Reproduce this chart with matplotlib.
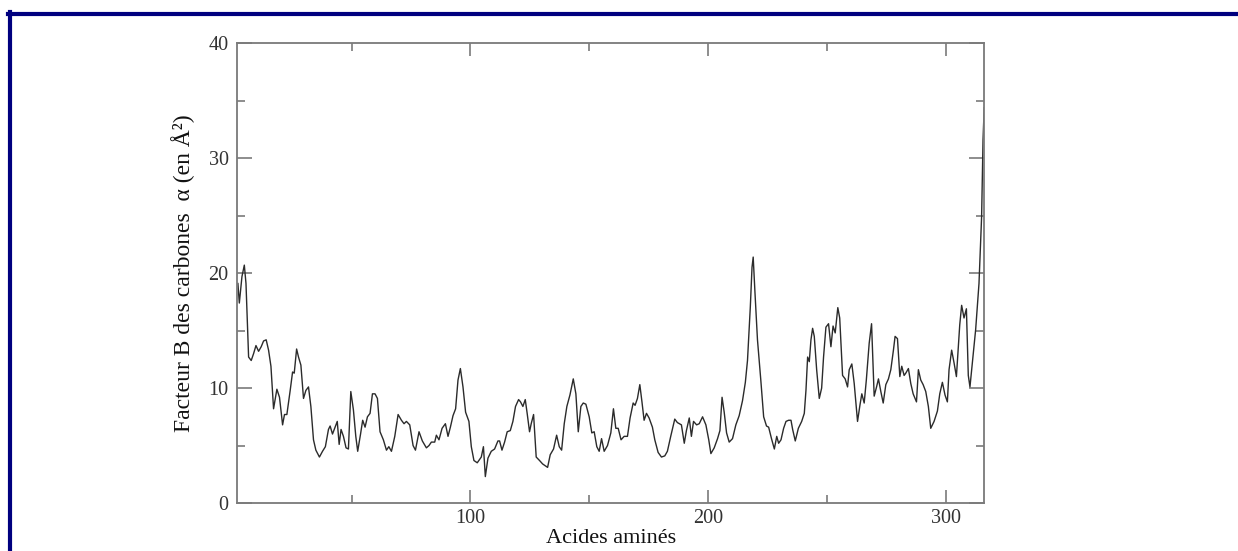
import matplotlib
matplotlib.use("Agg")
import matplotlib.pyplot as plt
from matplotlib.lines import Line2D
from matplotlib.ticker import MultipleLocator

# vertices: residue number, B factor of C-alpha (A^2)
residues = [
    2.2, 2.8, 3.9, 4.9, 5.6, 6.3, 6.7, 7.8, 8.8, 9.8, 10.9, 12.0, 13.0, 14.1,
    15.1, 16.1, 17.2, 18.6, 19.7, 21.0, 21.8, 22.8, 24.2, 25.2, 25.9, 26.9,
    27.7, 28.7, 29.8, 30.8, 31.9, 32.9, 34.0, 35.0, 36.5, 37.8, 39.0, 40.3,
    41.0, 42.0, 44.0, 44.8, 45.6, 46.6, 47.7, 48.7, 49.7, 50.8, 51.8, 52.6,
    53.8, 54.7, 55.7, 56.7, 57.8, 58.8, 59.9, 60.9, 62.0, 63.4,
    64.7, 65.7, 66.8, 68.2, 69.6, 71.0, 72.1, 73.1, 74.5, 75.9, 76.9, 78.4,
    79.8, 81.5, 82.6, 83.6, 85.0, 85.7, 86.8, 88.1, 89.5, 90.6, 91.6, 92.7,
    93.8, 94.8, 95.8, 96.9, 98.0, 99.4, 100.4, 101.5, 102.9, 104.6, 105.5,
    106.3, 107.4, 108.8, 110.2, 111.6, 112.3, 113.3, 114.4, 115.5, 116.8,
    117.9, 119.0, 120.3, 121.1, 122.1, 123.1, 123.9, 124.9, 125.6, 126.6,
    127.7, 129.1,
    130.4, 132.5, 133.6, 135.0, 136.3, 137.4, 138.4, 139.5, 140.6, 141.9,
    143.3, 144.4, 145.4, 146.5, 147.5, 148.6, 150.0, 151.1, 152.1, 153.2,
    154.2, 155.2, 156.3, 157.7, 159.1, 160.2, 161.2, 162.2, 163.4, 164.7,
    166.1, 167.2, 168.5, 169.3, 170.3, 171.3, 172.2, 173.1, 174.1, 175.2,
    176.6, 177.6, 179.0, 180.4, 181.8, 182.9, 184.3, 186.0, 187.1, 188.8,
    190.0, 190.9, 192.1, 193.0, 193.9, 195.2,
    196.3, 197.7, 199.1, 200.3, 201.2, 202.6, 204.0, 205.0, 205.9, 206.8,
    207.8, 208.9, 210.3, 211.7, 213.1, 214.5, 215.7, 216.6, 217.8, 218.5,
    219.0, 219.7, 220.8, 222.2, 223.4, 224.6, 225.5, 226.7, 227.9, 228.9,
    229.7, 230.7, 231.8, 232.8, 233.9, 234.9, 235.6, 236.7, 238.0, 239.4,
    240.5, 241.2, 241.9, 242.6, 243.3, 244.0, 244.7, 245.7, 246.8, 247.8,
    248.6, 249.6, 250.7, 251.7, 252.6, 253.5, 254.6, 255.4,
    256.6, 257.7, 258.7, 259.4, 260.5, 261.5, 262.9, 263.9, 264.7, 265.7,
    266.6, 267.8, 268.8, 269.9, 270.9, 271.7, 272.7, 273.7, 274.8, 275.9,
    276.9, 278.0, 278.7, 279.7, 280.7, 281.5, 282.5, 283.2, 284.3, 285.3,
    286.3, 287.7, 288.5, 289.5, 290.5, 291.6, 292.7, 293.7, 295.1, 296.5,
    297.5, 298.6, 299.7, 300.7, 301.4, 302.5, 303.5, 304.5, 305.4, 305.9,
    306.7, 307.7, 308.7, 309.5, 310.2, 312.6, 314.0, 315.1, 315.7, 316.2,
]
bfactor = [
    19.1, 17.4, 19.7, 20.7, 19.1, 15.0, 12.7, 12.4, 13.0, 13.7, 13.2, 13.6,
    14.1, 14.2, 13.3, 11.9, 8.2, 9.9, 9.2, 6.8, 7.7, 7.7, 9.8, 11.4, 11.3,
    13.4, 12.7, 12.0, 9.1, 9.8, 10.1, 8.4, 5.5, 4.6, 4.0, 4.5, 4.9, 6.4, 6.7,
    6.0, 7.1, 5.1, 6.4, 5.8, 4.8, 4.7, 9.7, 8.1, 5.8, 4.5, 6.0, 7.2, 6.6, 7.5,
    7.8, 9.5, 9.5, 9.1, 6.2, 5.5,
    4.6, 4.9, 4.5, 5.8, 7.7, 7.2, 6.9, 7.1, 6.8, 5.0, 4.6, 6.2, 5.4, 4.8, 5.0,
    5.3, 5.3, 5.9, 5.5, 6.5, 6.9, 5.8, 6.6, 7.6, 8.2, 10.7, 11.7, 10.1, 7.9,
    7.1, 4.9, 3.7, 3.5, 4.0, 4.9, 2.3, 3.9, 4.5, 4.7, 5.4, 5.4, 4.6, 5.3, 6.2,
    6.3, 7.1, 8.4, 9.0, 8.8, 8.4, 9.0, 7.8, 6.2, 6.9, 7.7, 4.0, 3.7,
    3.4, 3.1, 4.2, 4.7, 5.9, 4.9, 4.6, 6.9, 8.4, 9.4, 10.8, 9.5, 6.2, 8.4,
    8.7, 8.6, 7.5, 6.1, 6.2, 4.9, 4.5, 5.6, 4.5, 5.0, 6.1, 8.2, 6.5, 6.5, 5.5,
    5.8, 5.8, 7.4, 8.7, 8.5, 9.1, 10.3, 8.8, 7.2, 7.8, 7.4, 6.6, 5.5, 4.4,
    4.0, 4.1, 4.5, 5.8, 7.3, 7.0, 6.8, 5.2, 6.3, 7.4, 5.8, 7.1, 6.8,
    6.9, 7.5, 6.8, 5.5, 4.3, 4.8, 5.6, 6.3, 9.2, 7.9, 6.1, 5.3, 5.6, 6.8, 7.6,
    8.9, 10.5, 12.4, 17.1, 20.5, 21.4, 18.5, 14.2, 10.7, 7.5, 6.7, 6.6, 5.6,
    4.7, 5.8, 5.2, 5.5, 6.5, 7.1, 7.2, 7.2, 6.4, 5.4, 6.5, 7.1, 7.8, 9.8,
    12.7, 12.3, 14.2, 15.2, 14.5, 11.6, 9.1, 10.0, 12.7, 15.3, 15.6, 13.6,
    15.4, 14.8, 17.0, 16.1,
    11.1, 10.8, 10.1, 11.6, 12.1, 10.4, 7.1, 8.5, 9.5, 8.7, 10.7, 13.9, 15.6,
    9.3, 10.1, 10.8, 9.7, 8.7, 10.3, 10.8, 11.6, 13.3, 14.5, 14.3, 11.0, 11.9,
    11.1, 11.3, 11.7, 10.4, 9.5, 8.8, 11.6, 10.7, 10.3, 9.7, 8.4, 6.5, 7.1,
    8.0, 9.5, 10.5, 9.4, 8.8, 11.6, 13.3, 12.2, 11.0, 13.9, 15.5, 17.2, 16.1,
    16.9, 11.1, 10.1, 15.1, 19.1, 24.9, 31.6, 34.4,
]

x_major = [100, 200, 300]
y_major = [0, 10, 20, 30, 40]

plt.rcParams["font.family"] = ["Liberation Serif", "DejaVu Serif"]

fig = plt.figure(figsize=(12.38, 5.51), dpi=100)
ax = fig.add_axes([0.1914, 0.0871, 0.6038, 0.8343])

ax.plot(residues, bfactor, color="#2b2b2b", lw=1.0)

ax.set_xlim(1.8, 316.3)
ax.set_ylim(0, 40)
ax.set_xticks(x_major)
ax.set_yticks(y_major)
ax.xaxis.set_minor_locator(MultipleLocator(50))
ax.yaxis.set_minor_locator(MultipleLocator(5))

for s in ax.spines.values():
    s.set_color("#7a7a7a")
    s.set_linewidth(1.3)

ax.tick_params(which="both", direction="in", top=True, right=True,
               color="#7a7a7a", width=1.2, labelsize=14.5,
               labelcolor="#333333")
ax.tick_params(axis="y", which="major", length=11, pad=6)
ax.tick_params(axis="x", which="major", length=9.5, pad=4)
ax.tick_params(which="minor", length=5.5)

ax.set_xlabel("Acides aminés", fontsize=16, color="#111111", labelpad=1)
ax.set_ylabel("Facteur B des carbones  α (en Å²)", fontsize=17,
              color="#111111", labelpad=10)

# navy frame on the top and left edges of the page
navy = "#00007f"
fig.add_artist(Line2D([8 / 1238, 1.0], [1 - 14 / 551, 1 - 14 / 551],
                      transform=fig.transFigure, color=navy, lw=3.0))
fig.add_artist(Line2D([10 / 1238, 10 / 1238], [0.0, 1 - 12 / 551],
                      transform=fig.transFigure, color=navy, lw=3.0))

fig.savefig("out.png", dpi=100)
